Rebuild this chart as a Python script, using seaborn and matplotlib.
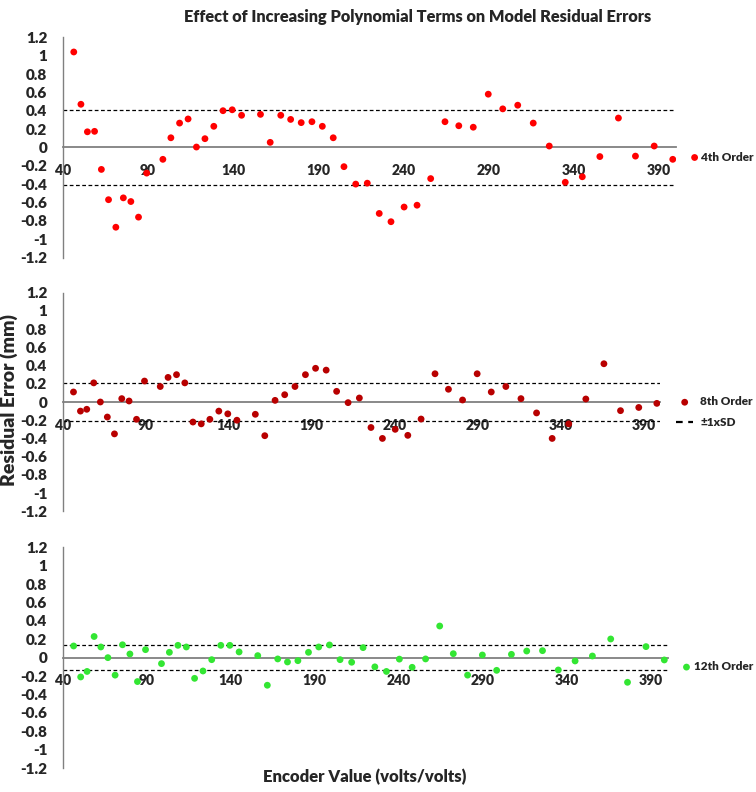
import matplotlib
matplotlib.use("Agg")
import matplotlib.pyplot as plt
from matplotlib.lines import Line2D
import seaborn as sns

# encoder values shared by all three fits
encoder = [46.5, 50.7, 54.5, 58.7, 62.7, 66.9, 71.2, 75.6, 80.0, 84.5,
           89.3, 98.8, 103.5, 108.6, 113.6, 118.5, 123.5, 128.7, 134.1, 139.5,
           145.0, 156.1, 161.8, 168.0, 173.8, 180.0, 186.3, 192.4, 198.8, 205.1,
           212.0, 218.8, 225.8, 232.7, 240.4, 248.0, 256.0, 264.4, 272.5, 281.0,
           289.8, 298.3, 307.1, 316.2, 325.6, 335.0, 345.0, 355.3, 366.2, 376.2,
           387.2, 398.1]

order4 = [1.04, 0.47, 0.17, 0.175, -0.24, -0.57, -0.87, -0.55, -0.59, -0.76,
          -0.28, -0.13, 0.105, 0.265, 0.31, 0.004, 0.095, 0.23, 0.40, 0.41,
          0.35, 0.36, 0.055, 0.35, 0.305, 0.27, 0.28, 0.23, 0.105, -0.21,
          -0.40, -0.39, -0.72, -0.81, -0.65, -0.63, -0.34, 0.28, 0.236, 0.22,
          0.58, 0.42, 0.46, 0.265, 0.015, -0.38, -0.32, -0.10, 0.32, -0.095,
          0.015, -0.13]

order8 = [0.11, -0.10, -0.08, 0.21, 0.0, -0.165, -0.35, 0.037, 0.011, -0.19,
          0.23, 0.17, 0.27, 0.30, 0.21, -0.22, -0.24, -0.19, -0.10, -0.13,
          -0.20, -0.135, -0.37, 0.018, 0.08, 0.17, 0.30, 0.37, 0.35, 0.117,
          -0.007, 0.044, -0.28, -0.40, -0.30, -0.366, -0.187, 0.31, 0.14, 0.022,
          0.31, 0.11, 0.17, 0.037, -0.12, -0.40, -0.24, 0.033, 0.42, -0.095,
          -0.06, -0.015]

order12 = [0.127, -0.21, -0.15, 0.23, 0.116, 0.0, -0.19, 0.14, 0.04, -0.26,
           0.087, -0.065, 0.058, 0.134, 0.116, -0.225, -0.145, -0.022, 0.134, 0.134,
           0.062, 0.022, -0.30, -0.014, -0.047, -0.033, 0.058, 0.116, 0.138, -0.022,
           -0.05, 0.109, -0.10, -0.15, -0.016, -0.105, -0.014, 0.344, 0.043, -0.19,
           0.029, -0.138, 0.036, 0.072, 0.076, -0.134, -0.036, 0.018, 0.203, -0.268,
           0.12, -0.025]

sd_values = [0.41, 0.21, 0.135]
series_names = ["4th Order", "8th Order", "12th Order"]
series_colors = ["#FF0000", "#B80000", "#33E633"]

x_ticks = [40, 90, 140, 190, 240, 290, 340, 390]
y_ticks = [1.2, 1.0, 0.8, 0.6, 0.4, 0.2, 0.0, -0.2, -0.4, -0.6, -0.8, -1.0, -1.2]
y_tick_labels = ["1.2", "1", "0.8", "0.6", "0.4", "0.2", "0",
                 "-0.2", "-0.4", "-0.6", "-0.8", "-1", "-1.2"]

sns.set_style("white")
plt.rcParams["font.family"] = ["Lato", "DejaVu Sans"]
plt.rcParams["font.weight"] = "heavy"
W_BOLD = "heavy"

W, H = 756, 792
fig = plt.figure(figsize=(W / 100, H / 100), dpi=100)

# panel boxes in pixels: left, top, right, bottom
boxes = [(62.7, 37.3, 676, 257.5), (62.7, 292.7, 660, 511.3), (62.7, 547.3, 667.5, 768)]
legend_pos = [(1.026, 0.456), (1.027, 0.454), (1.027, 0.459)]
legend_hlen = [0.45, 1.45, 0.45]
legend_pad = [0.35, 0.6, 0.4]

gray = "#808080"
for i, y_vals in enumerate([order4, order8, order12]):
    l, t, r, b = boxes[i]
    ax = fig.add_axes([l / W, 1 - b / H, (r - l) / W, (b - t) / H])
    sd = sd_values[i]
    ax.axhline(sd, color="black", lw=0.9, ls=(0, (3, 2)), zorder=1)
    ax.axhline(-sd, color="black", lw=0.9, ls=(0, (3, 2)), zorder=1)
    sns.scatterplot(x=encoder, y=y_vals, color=series_colors[i], s=24,
                    edgecolor="none", label=series_names[i], ax=ax, zorder=3)
    ax.set_xlim(40, 400)
    ax.set_ylim(-1.2, 1.2)
    ax.set_xticks(x_ticks)
    ax.set_xticklabels([str(v) for v in x_ticks], fontsize=11, fontweight=W_BOLD)
    ax.set_yticks(y_ticks)
    ax.set_yticklabels(y_tick_labels, fontsize=11, fontweight=W_BOLD)
    ax.tick_params(axis="x", length=0, pad=12)
    ax.tick_params(axis="y", length=0, pad=11)
    for side in ["top", "right"]:
        ax.spines[side].set_visible(False)
    ax.spines["bottom"].set_position(("data", 0))
    ax.spines["bottom"].set_color(gray)
    ax.spines["bottom"].set_linewidth(1.3)
    ax.spines["left"].set_color(gray)
    ax.spines["left"].set_linewidth(1.0)
    ax.set_xlabel("")
    ax.set_ylabel("")

    handles, labels = ax.get_legend_handles_labels()
    if i == 1:
        handles.append(Line2D([], [], color="black", lw=1.6, ls=(0, (3, 2.5))))
        labels.append("±1xSD")
    ax.legend(handles, labels, loc="center left", bbox_to_anchor=legend_pos[i],
              frameon=False, borderaxespad=0, borderpad=0,
              handlelength=legend_hlen[i], handletextpad=legend_pad[i],
              labelspacing=0.8, prop={"size": 8.5, "weight": W_BOLD})

fig.text(0.552, 0.978, "Effect of Increasing Polynomial Terms on Model Residual Errors",
         ha="center", va="center", fontsize=11.8, fontweight=W_BOLD)
fig.text(0.012, 0.495, "Residual Error (mm)", rotation=90, ha="center", va="center",
         fontsize=14, fontweight=W_BOLD)
fig.text(0.483, 0.019, "Encoder Value (volts/volts)", ha="center", va="center",
         fontsize=12, fontweight=W_BOLD)

fig.savefig("out.png", dpi=100)
